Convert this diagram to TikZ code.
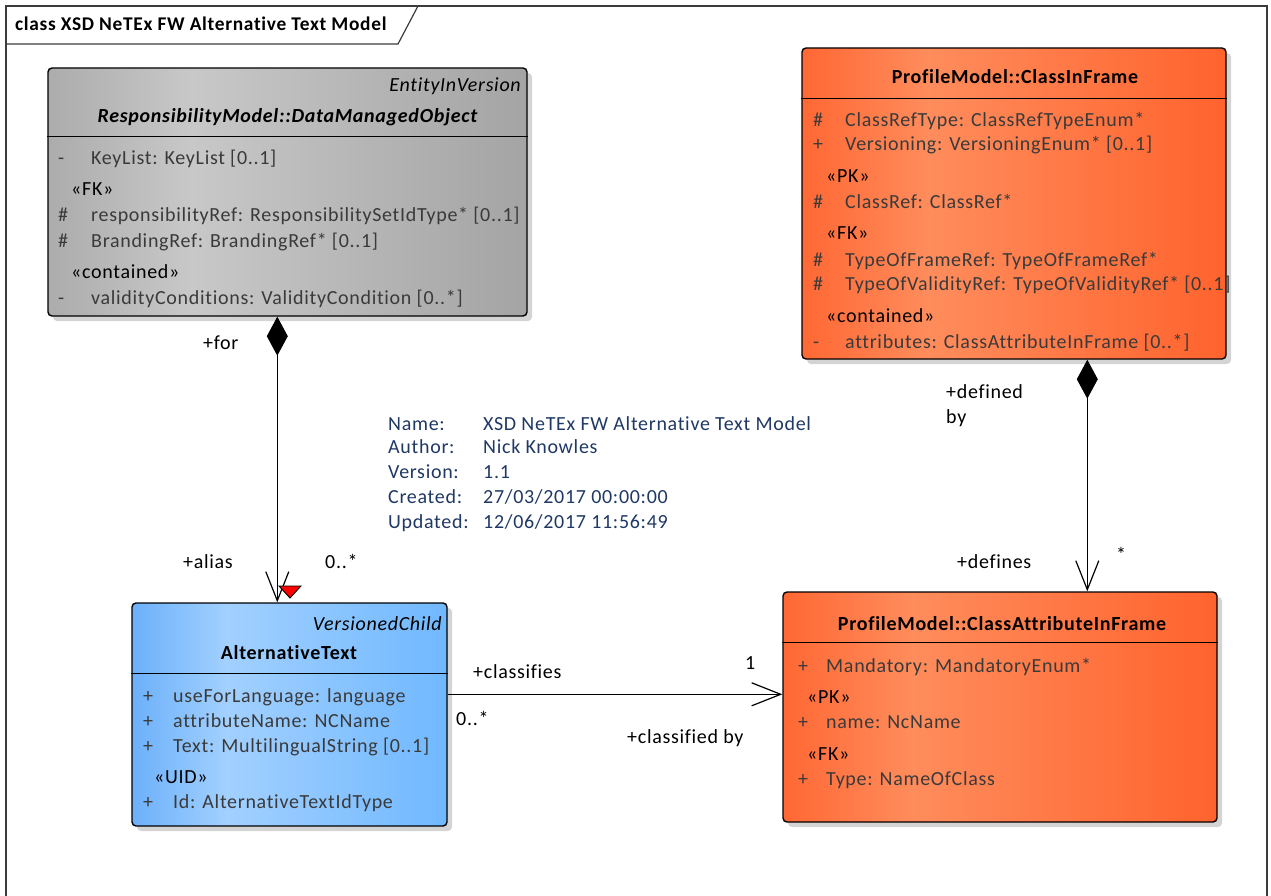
\documentclass[tikz,border=0pt]{standalone}
\usepackage{fontspec}
\setmainfont{Carlito}[LetterSpace=3.5, Ligatures={NoCommon}]
\usetikzlibrary{arrows.meta,shadows}

\definecolor{attrgray}{RGB}{58,58,58}
\definecolor{notenavy}{RGB}{31,56,100}
\definecolor{shadowgray}{RGB}{212,212,212}
\definecolor{framegray}{RGB}{60,60,60}
\definecolor{g1}{RGB}{172,172,172}
\definecolor{g2}{RGB}{200,200,200}
\definecolor{g3}{RGB}{164,164,164}
\definecolor{o1}{RGB}{255,104,52}
\definecolor{o2}{RGB}{255,140,92}
\definecolor{o3}{RGB}{255,99,45}
\definecolor{b1}{RGB}{108,176,250}
\definecolor{b2}{RGB}{162,208,255}
\definecolor{b3}{RGB}{112,184,255}

\pgfdeclarehorizontalshading{grayfill}{100bp}{color(0bp)=(g1); color(25bp)=(g1); color(40bp)=(g2); color(75bp)=(g3); color(100bp)=(g3)}
\pgfdeclarehorizontalshading{orangefill}{100bp}{color(0bp)=(o1); color(25bp)=(o1); color(40bp)=(o2); color(75bp)=(o3); color(100bp)=(o3)}
\pgfdeclarehorizontalshading{bluefill}{100bp}{color(0bp)=(b1); color(25bp)=(b1); color(40bp)=(b2); color(75bp)=(b3); color(100bp)=(b3)}

% arrow tips of the associations
\tikzset{
  compo/.tip={Diamond[length=39pt,width=21pt]},
  nav/.tip={Straight Barb[length=29pt,width=23pt,line width=1.2pt]}
}

% one attribute row: symbol and text, both on the same baseline
\newcommand{\umlrow}[6]{%
  \node[sym] (#1s) at (#2,#4) {#5};
  \node[attr] (#1t) at (#3,#4) {#6};}

\begin{document}
\begin{tikzpicture}[x=1pt,y=-1pt,
  every node/.style={font=\fontsize{20}{24}\selectfont},
  classbox/.style={draw=black, line width=1.4pt, rounded corners=4pt, rectangle, inner sep=0pt,
    drop shadow={shadow xshift=5pt, shadow yshift=-5pt, fill=shadowgray, opacity=1}},
  sep/.style={line width=1.4pt},
  txt/.style={anchor=base west, inner sep=0pt},
  sym/.style={txt, text=attrgray},
  attr/.style={txt, text=attrgray},
  stereo/.style={txt, text=black},
  ctitle/.style={anchor=base, inner sep=0pt, font=\fontsize{20}{24}\selectfont\bfseries},
  cbase/.style={anchor=base east, inner sep=0pt, font=\fontsize{20}{24}\selectfont\itshape},
  lbl/.style={txt, text=black},
  note/.style={txt, text=notenavy},
  conn/.style={line width=1.2pt, line cap=butt}
]
\useasboundingbox (0,0) rectangle (1271,896);

% diagram frame with its name tab
\draw[framegray, line width=1.4pt] (6,896) -- (6,6) -- (1267,6) -- (1267,896);
\draw[framegray, line width=1.2pt] (6,44) -- (398,44) -- (418,6);
\node[txt, font=\fontsize{19.4}{23}\selectfont\bfseries] (title) at (15,31) {class XSD NeTEx FW Alternative Text Model};

% ---------------- ResponsibilityModel::DataManagedObject
\node[classbox, shading=grayfill, minimum width=479pt, minimum height=248pt] (dmo) at (287.5,192) {};
\draw[sep] ([yshift=-69pt]dmo.north west) -- ([yshift=-69pt]dmo.north east);
\node[cbase] (dmoBase) at (521,91.5) {EntityInVersion};
\node[ctitle, font=\fontsize{20}{24}\selectfont\bfseries\itshape] (dmoName) at (287.5,123) {ResponsibilityModel::DataManagedObject};
\umlrow{dmoA}{58}{91}{165}{-}{KeyList: KeyList [0..1]}
\node[stereo] (dmoFK) at (71,196) {«FK»};
\umlrow{dmoB}{58}{91}{222}{\#}{responsibilityRef: ResponsibilitySetIdType* [0..1]}
\umlrow{dmoC}{58}{91}{247}{\#}{BrandingRef: BrandingRef* [0..1]}
\node[stereo] (dmoCont) at (71,278) {«contained»};
\umlrow{dmoD}{58}{91}{304}{-}{validityConditions: ValidityCondition [0..*]}

% ---------------- ProfileModel::ClassInFrame
\node[classbox, shading=orangefill, minimum width=424pt, minimum height=311pt] (cif) at (1014,203.5) {};
\draw[sep] ([yshift=-51pt]cif.north west) -- ([yshift=-51pt]cif.north east);
\node[ctitle] (cifName) at (1015,84) {ProfileModel::ClassInFrame};
\umlrow{cifA}{813}{845}{127}{\#}{ClassRefType: ClassRefTypeEnum*}
\umlrow{cifB}{813}{845}{151}{+}{Versioning: VersioningEnum* [0..1]}
\node[stereo] (cifPK) at (826,183) {«PK»};
\umlrow{cifC}{813}{845}{208}{\#}{ClassRef: ClassRef*}
\node[stereo] (cifFK) at (826,240) {«FK»};
\umlrow{cifD}{813}{845}{266}{\#}{TypeOfFrameRef: TypeOfFrameRef*}
\umlrow{cifE}{813}{845}{290}{\#}{TypeOfValidityRef: TypeOfValidityRef* [0..1]}
\node[stereo] (cifCont) at (826,322) {«contained»};
\umlrow{cifF}{813}{845}{348}{-}{attributes: ClassAttributeInFrame [0..*]}

% ---------------- AlternativeText
\node[classbox, shading=bluefill, minimum width=315pt, minimum height=223pt] (alt) at (289.5,714.5) {};
\draw[sep] ([yshift=-71pt]alt.north west) -- ([yshift=-71pt]alt.north east);
\node[cbase] (altBase) at (442,630) {VersionedChild};
\node[ctitle] (altName) at (289,659) {AlternativeText};
\umlrow{altA}{143}{173}{702}{+}{useForLanguage: language}
\umlrow{altB}{143}{173}{727}{+}{attributeName: NCName}
\umlrow{altC}{143}{173}{752}{+}{Text: MultilingualString [0..1]}
\node[stereo] (altUID) at (154,783) {«UID»};
\umlrow{altD}{143}{173}{808}{+}{Id: AlternativeTextIdType}

% ---------------- ProfileModel::ClassAttributeInFrame
\node[classbox, shading=orangefill, minimum width=434pt, minimum height=230pt] (caf) at (1000,707) {};
\draw[sep] ([yshift=-51pt]caf.north west) -- ([yshift=-51pt]caf.north east);
\node[ctitle] (cafName) at (1002,630) {ProfileModel::ClassAttributeInFrame};
\umlrow{cafA}{798}{826}{672}{+}{Mandatory: MandatoryEnum*}
\node[stereo] (cafPK) at (807,703) {«PK»};
\umlrow{cafB}{798}{826}{728}{+}{name: NcName}
\node[stereo] (cafFK) at (807,760) {«FK»};
\umlrow{cafC}{798}{826}{785}{+}{Type: NameOfClass}

% ---------------- diagram notes
\node[note] (nName)  at (388,430) {Name:};
\node[note] (vName)  at (483,430) {XSD NeTEx FW Alternative Text Model};
\node[note] (nAuth)  at (388,453) {Author:};
\node[note] (vAuth)  at (483,453) {Nick Knowles};
\node[note] (nVer)   at (388,478) {Version:};
\node[note] (vVer)   at (483,478) {1.1};
\node[note] (nCre)   at (388,503) {Created:};
\node[note] (vCre)   at (483,503) {27/03/2017 00:00:00};
\node[note] (nUpd)   at (388,528) {Updated:};
\node[note] (vUpd)   at (483,528) {12/06/2017 11:56:49};

% ---------------- associations
\draw[conn, compo-nav] ([xshift=230pt]dmo.south west) -- ([xshift=146pt]alt.north west);
\draw[conn, compo-nav] ([xshift=286pt]cif.south west) -- ([xshift=305pt]caf.north west);
\draw[conn, -nav] ([yshift=-92pt]alt.north east) -- ([yshift=-103pt]caf.north west);

% red marker beside the aggregation end
\filldraw[fill=red, draw=black, line width=0.9pt] (279,586) -- (301,586) -- (290,598) -- cycle;

% association end labels
\node[lbl] (lFor)    at (203,349) {+for};
\node[lbl] (lAlias)  at (183,568) {+alias};
\node[lbl] (lMultA)  at (325,568) {0..*};
\node[lbl] (lDef1)   at (946,398) {+defined};
\node[lbl] (lDef2)   at (946,423) {by};
\node[lbl] (lDefs)   at (957,568) {+defines};
\node[lbl] (lStar)   at (1116,561) {*};
\node[lbl] (lCls)    at (473,678) {+classifies};
\node[lbl] (lOne)    at (745,669) {1};
\node[lbl] (lMultB)  at (456,725) {0..*};
\node[lbl] (lClsBy)  at (627,743) {+classified by};
\end{tikzpicture}
\end{document}
